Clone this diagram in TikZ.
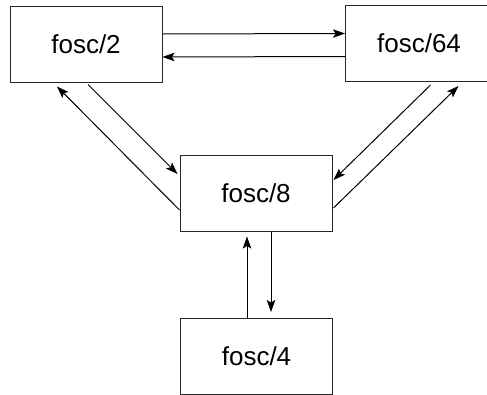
\documentclass[tikz,border=0pt]{standalone}
\usepackage{fontspec}
\setmainfont{Liberation Sans}
\usetikzlibrary{arrows.meta}
\begin{document}
\begin{tikzpicture}[x=1pt,y=-1pt,
  box/.style={draw=black!85, line width=1pt, minimum width=152pt, minimum height=76pt, inner sep=0pt, font=\fontsize{26}{30}\selectfont},
  lbl/.style={inner sep=0pt, font=\fontsize{26}{30}\selectfont},
  arr/.style={line width=1pt, -{Stealth[length=12pt,width=8.5pt,inset=2.5pt]}}]
\useasboundingbox (0,0) rectangle (487,394);
\node[box] (n2) at (86,44) {fosc/2};
\node[box, minimum width=180pt, anchor=west] (n64) at (345,43.5) {};
\node[lbl] (t64) at (419,43.5) {fosc/64};
\node[box] (n8) at (256,193) {fosc/8};
\node[box] (n4) at (256.5,356.5) {fosc/4};
% top pair
\draw[arr] ([yshift=10pt]n2.east) -- ([yshift=10pt]n64.west);
\draw[arr] ([yshift=-13pt]n64.west) -- ([yshift=-13pt]n2.east);
% left pair
\draw[arr] ([yshift=-17pt]n8.west) -- ([xshift=-29pt,yshift=-4pt]n2.south);
\draw[arr] ([xshift=2pt,yshift=-2pt]n2.south) -- ([xshift=-2pt,yshift=19pt]n8.west);
% right pair
\draw[arr] ([xshift=-5pt,yshift=-3pt]n64.south) -- ([xshift=1pt,yshift=13pt]n8.east);
\draw[arr] ([xshift=1pt,yshift=-15pt]n8.east) -- ([xshift=23pt,yshift=-4pt]n64.south);
% vertical pair
\draw[arr] ([xshift=-9.5pt]n4.north) -- ([xshift=-9pt,yshift=-5pt]n8.south);
\draw[arr] ([xshift=15pt]n8.south) -- ([xshift=14.5pt,yshift=6pt]n4.north);
\end{tikzpicture}
\end{document}
